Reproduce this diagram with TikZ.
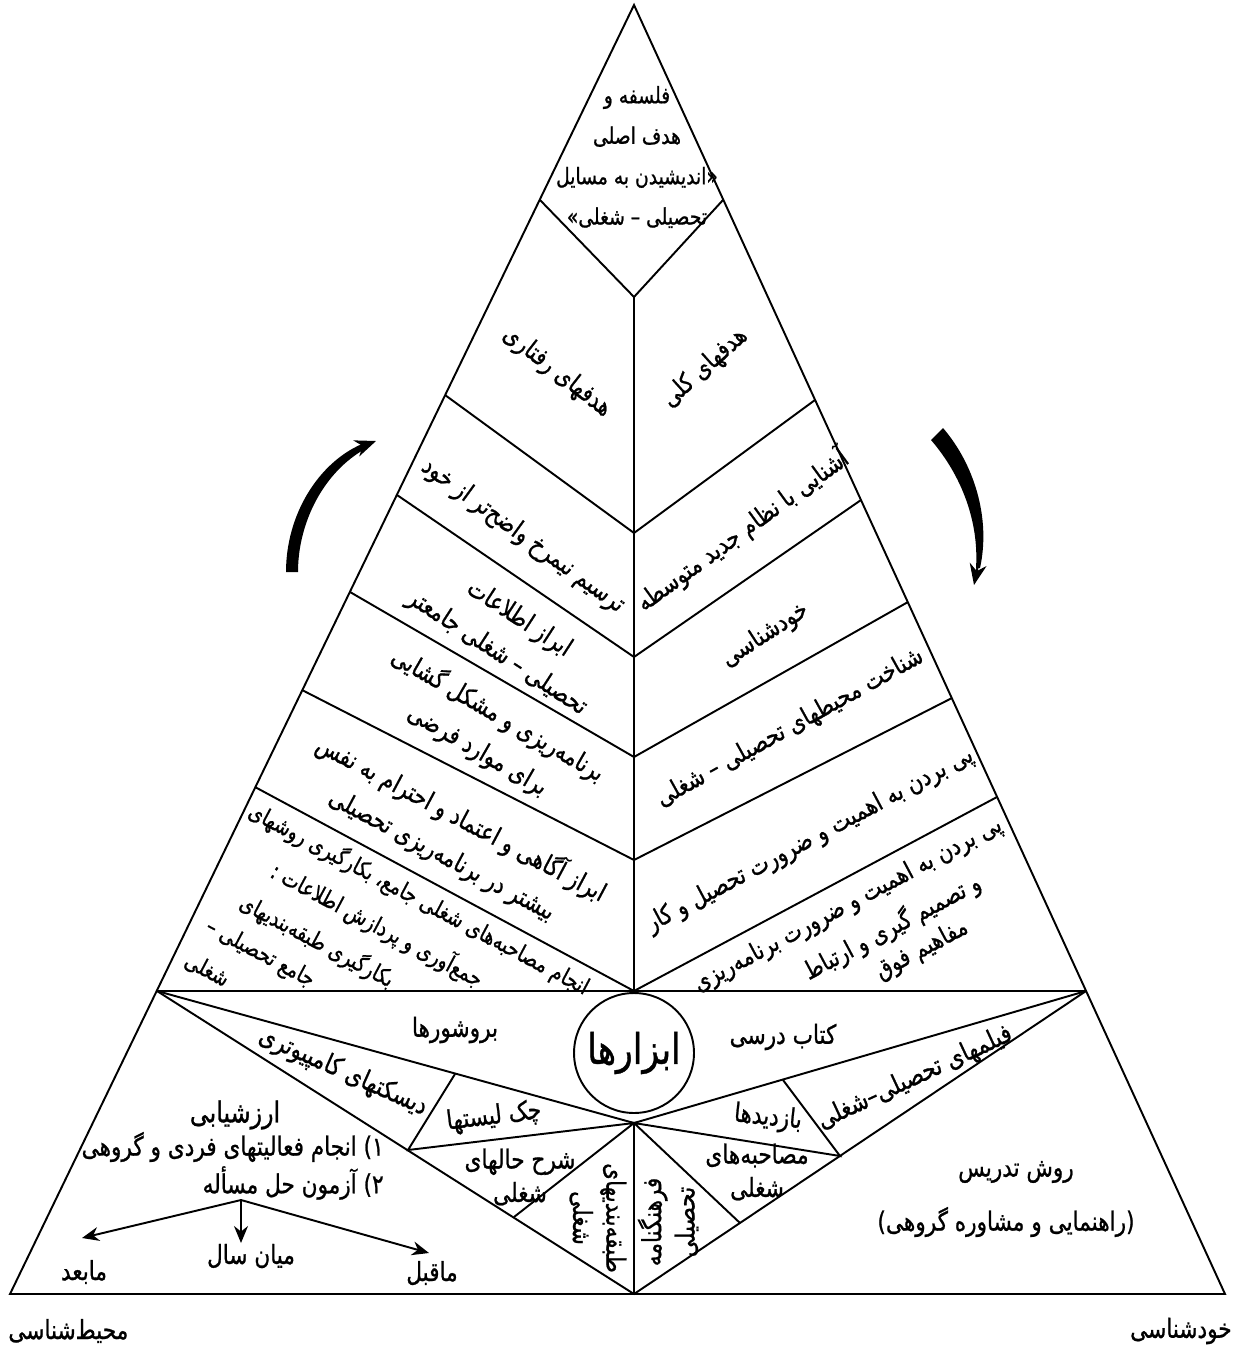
\documentclass[tikz,border=0pt]{standalone}
\usepackage{fontspec}
\newfontfamily\farsifont[Script=Arabic,FakeStretch=0.82,FakeBold=0.9]{DejaVu Sans}
\TeXXeTstate=1
\usetikzlibrary{arrows.meta,calc}
\newcommand{\fa}[1]{{\farsifont\beginR #1\endR}}
\tikzset{
  frame/.style={line width=1.1pt, line join=miter},
  bandlabel/.style={font=\fontsize{14.5}{23}\selectfont, align=center, inner sep=0pt},
  joblabel/.style={bandlabel, font=\fontsize{13}{21}\selectfont, rotate=-28},
  planlabel/.style={bandlabel, font=\fontsize{14.2}{21}\selectfont, rotate=28},
  baselabel/.style={font=\fontsize{15}{19}\selectfont, align=center, inner sep=0pt},
  forkarrow/.style={-{Stealth[length=3.4mm,width=2.8mm]}, line width=1.1pt},
  turnarrow/.style={-{Stealth[length=4.2mm,width=3.4mm]}, line width=1.2pt}
}

\begin{document}
\begin{tikzpicture}[x=0.02cm,y=-0.02cm]
\useasboundingbox (0,0) rectangle (1235,1348);

% outline of the pyramid
\coordinate (apex) at (634,5);
\coordinate (bl) at (10,1294);
\coordinate (br) at (1225,1294);
\coordinate (hl) at (157,991);
\coordinate (hr) at (1086,991);
\coordinate (bc) at (634,1294);
\coordinate (hub) at (634,1123);

% chevron points
\coordinate (c0) at (634,297); \coordinate (c1) at (634,533);
\coordinate (c2) at (634,657); \coordinate (c3) at (634,757);
\coordinate (c4) at (634,860); \coordinate (c5) at (634,991);
\coordinate (l0) at (540,200); \coordinate (l1) at (445,395);
\coordinate (l2) at (397,495); \coordinate (l3) at (350,592);
\coordinate (l4) at (302,690); \coordinate (l5) at (255,787);
\coordinate (r0) at (723,200); \coordinate (r1) at (815,400);
\coordinate (r2) at (861,500); \coordinate (r3) at (908,602);
\coordinate (r4) at (952,698); \coordinate (r5) at (997,797);

% base fan
\coordinate (d1) at (455,1074); \coordinate (d2) at (408,1150);
\coordinate (d3) at (514,1217);
\coordinate (e1) at (783,1080); \coordinate (e2) at (840,1156);
\coordinate (e3) at (740,1223);

\draw[frame] (apex) -- (bl) -- (br) -- cycle;
\draw[frame] (hl) -- (hr);
\draw[frame] (c0) -- (c5);
\foreach \i in {0,...,5}
  \draw[frame] (l\i) -- (c\i) -- (r\i);
\draw[frame] (hl) -- (hub) -- (hr);
\draw[frame] (hl) -- (bc) -- (hr);
\draw[frame] (hub) -- (bc);
\draw[frame] (d1) -- (d2) -- (hub) -- (d3);
\draw[frame] (e1) -- (e2) -- (hub) -- (e3);

\node[draw,circle,line width=1.1pt,minimum size=2.4cm,inner sep=0pt,
  font=\fontsize{24}{26}\selectfont] (tools) at (634,1053) {\fa{ابزارها}};

% top
\node[bandlabel,font=\fontsize{13}{23}\selectfont] (philosophy) at (637,157)
  {\fa{فلسفه و}\\\fa{هدف اصلی}\\\fa{«اندیشیدن به مسایل}\\\fa{تحصیلی – شغلی»}};

% left bands
\node[bandlabel,rotate=-38] (behavgoals) at (557,372) {\fa{هدفهای رفتاری}};
\node[bandlabel,rotate=-36] (profile) at (523,536) {\fa{ترسیم نیمرخ واضح‌تر از خود}};
\node[bandlabel,rotate=-33] (infotools) at (508,636)
  {\fa{ابراز اطلاعات}\\\fa{تحصیلی – شغلی جامعتر}};
\node[bandlabel,rotate=-30] (planning) at (488,732)
  {\fa{برنامه‌ریزی و مشکل گشایی}\\\fa{برای موارد فرضی}};
\node[bandlabel,rotate=-28] (awareness) at (452,836)
  {\fa{ابراز آگاهی و اعتماد و احترام به نفس}\\\fa{بیشتر در برنامه‌ریزی تحصیلی}};
\node[joblabel] (jobone) at (419,899) {\fa{انجام مصاحبه‌های شغلی جامع، بکارگیری روشهای}};
\node[joblabel] (jobtwo) at (377,925) {\fa{جمع‌آوری و پردازش اطلاعات :}};
\node[joblabel] (jobthree) at (317,941) {\fa{بکارگیری طبقه‌بندیهای}};
\node[joblabel] (jobfour) at (260,954) {\fa{جامع تحصیلی –}};
\node[joblabel] (jobfive) at (207,970) {\fa{شغلی}};

% right bands
\node[bandlabel,rotate=42] (generalgoals) at (705,368) {\fa{هدفهای کلی}};
\node[bandlabel,rotate=36] (newsystem) at (742,530) {\fa{آشنایی با نظام جدید متوسطه}};
\node[bandlabel,rotate=33] (selfknow) at (765,635) {\fa{خودشناسی}};
\node[bandlabel,rotate=29] (environments) at (790,728) {\fa{شناخت محیطهای تحصیلی – شغلی}};
\node[bandlabel,rotate=28] (importance) at (810,840) {\fa{پی بردن به اهمیت و ضرورت تحصیل و کار}};
\node[planlabel] (planone) at (848,905) {\fa{پی بردن به اهمیت و ضرورت برنامه‌ریزی}};
\node[planlabel] (plantwo) at (892,927) {\fa{و تصمیم گیری و ارتباط}};
\node[planlabel] (planthree) at (922,950) {\fa{مفاهیم فوق}};

% base: tools
\node[baselabel] (brochures) at (455,1030) {\fa{بروشورها}};
\node[baselabel] (textbook) at (783,1037) {\fa{کتاب درسی}};
\node[baselabel,rotate=-24] (disks) at (343,1072) {\fa{دیسکتهای کامپیوتری}};
\node[baselabel,rotate=7] (checklists) at (494,1117) {\fa{چک لیستها}};
\node[baselabel] (cases) at (520,1177) {\fa{شرح حالهای}\\\fa{شغلی}};
\node[baselabel,rotate=-90] (jobclasses) at (598,1218) {\fa{طبقه‌بندیهای}\\\fa{شغلی}};
\node[baselabel,rotate=90] (dictionary) at (668,1222) {\fa{فرهنگنامه}\\\fa{تحصیلی}};
\node[baselabel] (interviews) at (757,1172) {\fa{مصاحبه‌های}\\\fa{شغلی}};
\node[baselabel,rotate=-6] (visits) at (768,1118) {\fa{بازدیدها}};
\node[baselabel,rotate=25] (films) at (915,1078) {\fa{فیلمهای تحصیلی–شغلی}};
\node[baselabel] (teaching) at (1016,1172) {\fa{روش تدریس}};
\node[baselabel] (guidance) at (1006,1222) {\fa{(راهنمایی و مشاوره گروهی)}};

% base: evaluation
\node[baselabel,font=\fontsize{16.5}{19}\selectfont] (evaluation) at (235,1115) {\fa{ارزشیابی}};
\node[baselabel,anchor=east] (evalone) at (384,1147) {\fa{۱) انجام فعالیتهای فردی و گروهی}};
\node[baselabel,anchor=east] (evaltwo) at (384,1183) {\fa{۲) آزمون حل مسأله}};
\node[baselabel] (after) at (84,1272) {\fa{مابعد}};
\node[baselabel] (midyear) at (251,1256) {\fa{میان سال}};
\node[baselabel] (before) at (432,1273) {\fa{ماقبل}};
\coordinate (fork) at (241,1200);
\coordinate (afterend) at (82,1238);
\coordinate (midend) at (241,1243);
\coordinate (beforeend) at (429,1253);
\draw[forkarrow] (fork) -- (afterend);
\draw[forkarrow] (fork) -- (midend);
\draw[forkarrow] (fork) -- (beforeend);

% corner labels
\node[baselabel,anchor=west] (environment) at (8,1331) {\fa{محیط‌شناسی}};
\node[baselabel,anchor=east] (self) at (1232,1331) {\fa{خودشناسی}};

% turning arrows
\coordinate (upstart) at (292,572);
\coordinate (uptip) at (376,441);
\fill (286,572) .. controls (286,515) and (318,463) .. (362,444)
  -- (365,449) .. controls (324,472) and (298,522) .. (298,572) -- cycle;
\draw[turnarrow] (360,447) -- (uptip);
\coordinate (downstart) at (937,434);
\coordinate (downtip) at (974,585);
\fill (931,440) .. controls (962,476) and (979,522) .. (976,568)
  -- (980,568) .. controls (991,518) and (974,464) .. (943,428) -- cycle;
\draw[turnarrow] (978,565) -- (downtip);
\end{tikzpicture}
\end{document}
